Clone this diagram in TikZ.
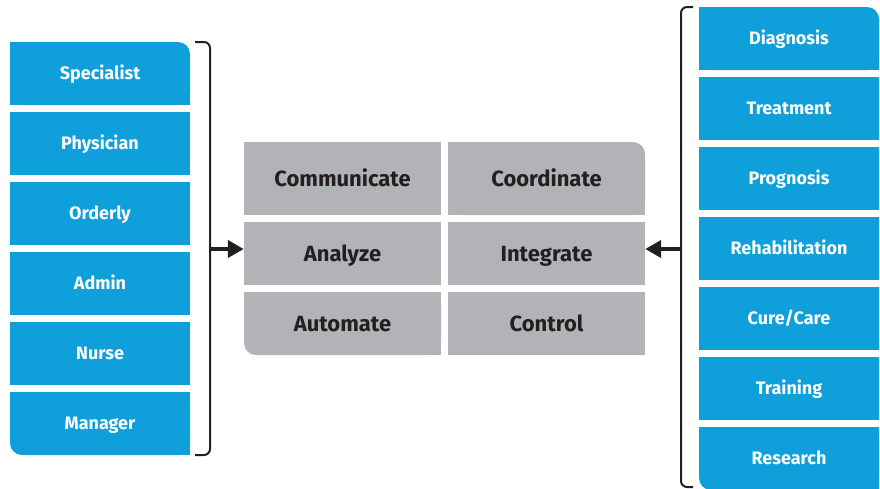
\documentclass[tikz,border=0pt]{standalone}
\usepackage{fontspec}
\setmainfont{Fira Sans}
\usetikzlibrary{arrows.meta}
\definecolor{hpblue}{HTML}{0FA0DB}
\definecolor{hpgray}{HTML}{B1B3B6}
\definecolor{hpdark}{HTML}{231F20}
\tikzset{
  bluecell/.style={fill=hpblue, text=white, font=\bfseries\fontsize{18}{18}\selectfont, inner sep=0pt, text height=13pt, text depth=0.6pt, minimum width=180pt, minimum height=63pt, anchor=center},
  bluetext/.style={bluecell, fill=none},
  graycell/.style={fill=hpgray, text=hpdark, font=\bfseries\fontsize{22}{22}\selectfont, inner sep=0pt, text height=16pt, text depth=0.8pt, minimum width=197pt, anchor=center},
  graytext/.style={graycell, fill=none},
  brack/.style={draw=hpdark, line width=2pt, rounded corners=6pt},
  arr/.style={draw=hpdark, line width=4pt, -{Triangle[length=16pt,width=17pt]}},
}
\begin{document}
\begin{tikzpicture}[x=1pt,y=-1pt]
\useasboundingbox (0,0) rectangle (880,488);
% left column
\fill[hpblue, rounded corners=12pt] (10,42) rectangle (190,105);
\fill[hpblue] (10,42) rectangle (100,105);
\fill[hpblue] (10,74) rectangle (190,105);
\node[bluetext] (spec) at (100,73.5) {Specialist};
\node[bluecell] (phys) at (100,143.5) {Physician};
\node[bluecell] (ord) at (100,213.5) {Orderly};
\node[bluecell] (adm) at (100,283.5) {Admin};
\node[bluecell] (nur) at (100,353.5) {Nurse};
\fill[hpblue, rounded corners=12pt] (10,392) rectangle (190,455);
\fill[hpblue] (100,392) rectangle (190,455);
\fill[hpblue] (10,392) rectangle (190,423);
\node[bluetext] (man) at (100,423.5) {Manager};
% left bracket
\draw[brack] (195,42) -- (210,42) -- (210,455) -- (195,455);
\coordinate (lb) at (210,249);
% center grid
\node[graycell, minimum height=73pt] (com) at (342.5,178.5) {Communicate};
\fill[hpgray, rounded corners=12pt] (448,142) rectangle (645,215);
\fill[hpgray] (448,142) rectangle (546,215);
\fill[hpgray] (448,180) rectangle (645,215);
\node[graytext, minimum height=73pt] (coo) at (546.5,178.5) {Coordinate};
\node[graycell, minimum height=63pt] (ana) at (342.5,253.5) {Analyze};
\node[graycell, minimum height=63pt] (int) at (546.5,253.5) {Integrate};
\fill[hpgray, rounded corners=12pt] (244,292) rectangle (441,355);
\fill[hpgray] (342,292) rectangle (441,355);
\fill[hpgray] (244,292) rectangle (441,323);
\node[graytext, minimum height=63pt] (aut) at (342.5,323.5) {Automate};
\node[graycell, minimum height=63pt] (con) at (546.5,323.5) {Control};
% right bracket
\draw[brack] (693,7) -- (681,7) -- (681,487) -- (693,487);
\coordinate (rb) at (681,249);
% right column
\fill[hpblue, rounded corners=12pt] (699,7) rectangle (879,70);
\fill[hpblue] (699,7) rectangle (789,70);
\fill[hpblue] (699,39) rectangle (879,70);
\node[bluetext] (dia) at (789,38.5) {Diagnosis};
\node[bluecell] (tre) at (789,108.5) {Treatment};
\node[bluecell] (pro) at (789,178.5) {Prognosis};
\node[bluecell] (reh) at (789,248.5) {Rehabilitation};
\node[bluecell] (cur) at (789,318.5) {Cure/Care};
\node[bluecell] (tra) at (789,388.5) {Training};
\fill[hpblue, rounded corners=12pt] (699,427) rectangle (879,490);
\fill[hpblue] (789,427) rectangle (879,490);
\fill[hpblue] (699,427) rectangle (879,458);
\node[bluetext] (res) at (789,458.5) {Research};
% arrows
\draw[arr] (lb) -- (lb -| ana.west);
\draw[arr] (rb) -- (rb -| int.east);
\end{tikzpicture}
\end{document}
